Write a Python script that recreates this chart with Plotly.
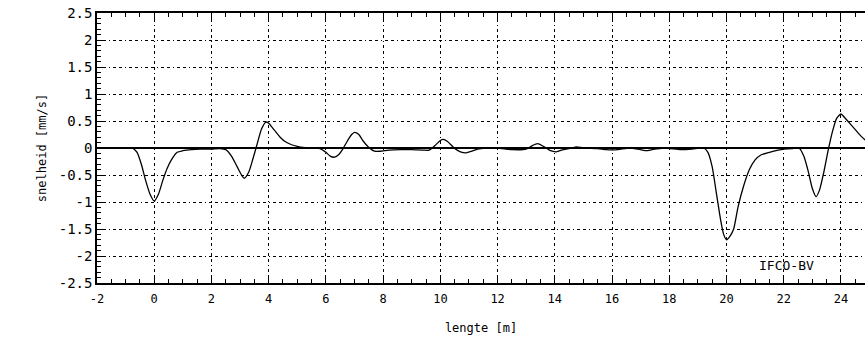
import plotly.graph_objects as go

# position along the element [m]
lengte = [-0.75, -0.6, -0.45, -0.3, -0.15, 0.0, 0.15, 0.3, 0.45, 0.6, 0.8, 1.0, 1.3, 1.6, 2.0, 2.3, 2.5,
          2.7, 2.9, 3.05, 3.15, 3.3, 3.45, 3.6, 3.75, 3.9, 4.0, 4.2, 4.4, 4.6, 4.8, 5.0, 5.2, 5.5, 5.8,
          6.0, 6.15, 6.3, 6.45, 6.6, 6.75, 6.9, 7.0, 7.15, 7.3, 7.5, 7.7, 7.9, 8.2, 8.6, 9.0, 9.4, 9.6,
          9.8, 10.0, 10.1, 10.25, 10.5, 10.7, 10.9, 11.1, 11.3, 11.6, 12.0, 12.5, 13.0, 13.2, 13.4, 13.6,
          13.85, 14.05, 14.3, 14.6, 14.75, 15.0, 15.5, 15.8, 16.2, 16.6, 17.0, 17.2, 17.4, 17.8, 18.4,
          18.8, 19.2, 19.35, 19.5, 19.65, 19.8, 19.9, 20.0, 20.1, 20.25, 20.4, 20.6, 20.8, 21.0, 21.2,
          21.5, 21.8, 22.0, 22.3, 22.55, 22.7, 22.85, 23.0, 23.13, 23.25, 23.4, 23.55, 23.7, 23.85,
          24.0, 24.15, 24.3, 24.5, 24.7, 24.9]

# measured velocity [mm/s]
snelheid = [0.0, -0.08, -0.3, -0.6, -0.85, -0.98, -0.85, -0.6, -0.38, -0.22, -0.08, -0.05, -0.03, -0.02,
            -0.02, -0.01, -0.03, -0.15, -0.35, -0.5, -0.56, -0.45, -0.2, 0.08, 0.35, 0.48, 0.46, 0.33,
            0.2, 0.11, 0.06, 0.03, 0.01, 0.0, -0.01, -0.08, -0.15, -0.17, -0.12, -0.01, 0.13, 0.25, 0.29,
            0.25, 0.13, 0.01, -0.06, -0.06, -0.04, -0.03, -0.03, -0.04, -0.04, 0.04, 0.14, 0.16, 0.12,
            -0.01, -0.07, -0.09, -0.06, -0.02, 0.0, 0.0, -0.03, -0.02, 0.04, 0.08, 0.03, -0.05, -0.07,
            -0.03, 0.0, 0.02, 0.0, -0.01, -0.03, -0.03, 0.0, -0.03, -0.05, -0.03, 0.0, -0.03, -0.02, 0.0,
            -0.08, -0.35, -0.85, -1.35, -1.6, -1.70, -1.65, -1.5, -1.1, -0.7, -0.4, -0.22, -0.13, -0.08,
            -0.04, -0.02, -0.01, -0.01, -0.15, -0.42, -0.75, -0.9, -0.78, -0.45, -0.05, 0.3, 0.55, 0.63,
            0.55, 0.46, 0.34, 0.22, 0.12]

x_ticks = list(range(-2, 26, 2))
y_ticks = [-2.5, -2, -1.5, -1, -0.5, 0, 0.5, 1, 1.5, 2, 2.5]
y_labels = ["-2.5", "-2", "-1.5", "-1", "-0.5", "0", "0.5", "1", "1.5", "2", "2.5"]

FONT = "DejaVu Sans Mono"
GRID_DASH = "3px,3px,3px,3px,1px,3px"

fig = go.Figure()
fig.add_trace(go.Scatter(x=lengte, y=snelheid, mode="lines", line_shape="spline",
                         line=dict(color="black", width=1.3, smoothing=0.6), showlegend=False))

fig.add_annotation(x=22.1, y=-2.17, text="IFCO-BV", showarrow=False,
                   font=dict(family=FONT, size=13, color="black"))

fig.update_layout(
    width=865, height=349,
    margin=dict(l=97, r=0, t=13, b=66),
    paper_bgcolor="white", plot_bgcolor="white",
    font=dict(family=FONT, size=12, color="black"),
    xaxis=dict(
        range=[-2, 24.84], tickvals=x_ticks, ticktext=[str(v) for v in x_ticks],
        ticks="inside", ticklen=6, tickcolor="black", tickwidth=1,
        minor=dict(dtick=0.5, tick0=0, ticks="inside", ticklen=4, tickcolor="black", showgrid=False),
        showline=True, linecolor="black", linewidth=1.5, mirror="allticks",
        showgrid=True, gridcolor="black", gridwidth=1, griddash=GRID_DASH,
        zeroline=False, ticklabelstandoff=4,
        title=dict(text="lengte [m]", font=dict(family=FONT, size=12), standoff=18),
        tickfont=dict(family=FONT, size=12),
    ),
    yaxis=dict(
        range=[-2.5, 2.5], tickvals=y_ticks, ticktext=y_labels,
        ticks="inside", ticklen=6, tickcolor="black", tickwidth=1,
        minor=dict(dtick=0.1, tick0=0, ticks="inside", ticklen=4, tickcolor="black", showgrid=False),
        showline=True, linecolor="black", linewidth=1.5, mirror=False,
        showgrid=True, gridcolor="black", gridwidth=1, griddash=GRID_DASH,
        zeroline=True, zerolinecolor="black", zerolinewidth=1.5,
        title=dict(text="snelheid [mm/s]", font=dict(family=FONT, size=12), standoff=10),
        tickfont=dict(family=FONT, size=14),
    ),
)

fig.write_html("out.html")
